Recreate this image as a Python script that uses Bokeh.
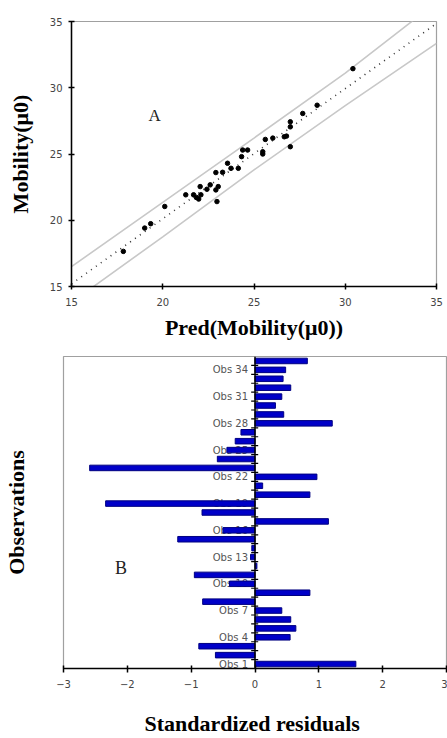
import numpy as np
from bokeh.plotting import figure
from bokeh.models import Range1d, Span, Label, FixedTicker
from bokeh.core.properties import value
from bokeh.embed import file_html
from bokeh.resources import INLINE

# ---------------- data: panel A ----------------
pred_x = [17.84, 19.01, 19.34, 20.11, 21.26, 21.69, 21.84, 21.97, 22.09, 22.05,
          22.42, 22.60, 22.91, 22.91, 23.04, 22.97, 23.28, 23.55, 23.74, 24.14,
          24.32, 24.38, 24.65, 25.48, 25.48, 25.62, 26.03, 26.66, 26.78, 26.99,
          26.99, 26.99, 27.67, 28.46, 30.42]
obs_y = [17.65, 19.41, 19.74, 21.04, 21.92, 21.92, 21.72, 21.60, 21.92, 22.54,
         22.34, 22.67, 23.60, 22.29, 22.54, 21.41, 23.62, 24.30, 23.92, 23.92,
         24.80, 25.30, 25.30, 25.17, 25.00, 26.10, 26.20, 26.30, 26.35, 25.55,
         27.05, 27.43, 28.06, 28.68, 31.44]
fit_x = [15, 35]
fit_y = [15.2, 34.85]
band_x = [15, 20, 25, 30, 35]
band_upper = [16.5, 21.35, 26.2, 31.1, 36.45]
band_lower = [13.8, 18.75, 23.8, 28.65, 33.35]
ticks_a = [15, 20, 25, 30, 35]

# ---------------- data: panel B ----------------
obs_index = list(range(1, 36))
std_resid = [1.58, -0.62, -0.88, 0.55, 0.64, 0.56, 0.42, -0.82, 0.86, -0.40,
             -0.95, 0.03, -0.07, -0.05, -1.21, -0.50, 1.15, -0.83, -2.34, 0.86,
             0.12, 0.97, -2.59, -0.59, -0.44, -0.31, -0.22, 1.21, 0.45, 0.32,
             0.42, 0.56, 0.44, 0.48, 0.82]
obs_label_pos = [1, 4, 7, 10, 13, 16, 19, 22, 25, 28, 31, 34]
obs_labels = ["Obs 1", "Obs 4", "Obs 7", "Obs 10", "Obs 13", "Obs 16", "Obs 19",
              "Obs 22", "Obs 25", "Obs 28", "Obs 31", "Obs 34"]
ticks_b = [-3, -2, -1, 0, 1, 2, 3]

SERIF = "Liberation Serif"
SANS = "DejaVu Sans"

# ---------------- panel A ----------------
p1 = figure(width=447, height=342, output_backend="svg", toolbar_location=None,
            x_range=Range1d(15, 35), y_range=Range1d(15, 35),
            min_border_left=71, min_border_right=11, min_border_top=21, min_border_bottom=55)
p1.grid.visible = False
p1.outline_line_color = "#a0a0a0"
p1.outline_line_width = 1.2

p1.line(band_x, band_upper, line_color="#c8c8c8", line_width=1.6)
p1.line(band_x, band_lower, line_color="#c8c8c8", line_width=1.6)
p1.line(fit_x, fit_y, line_color="#333333", line_width=1.6, line_dash="1 5")
p1.scatter(pred_x, obs_y, size=4.5, color="black")

p1.add_layout(Label(x=19.56, y=27.93, text="A", text_font=SERIF, text_font_size="17px",
                    text_align="center", text_baseline="middle", text_color="#222222"))

for ax in (p1.xaxis[0], p1.yaxis[0]):
    ax.ticker = FixedTicker(ticks=ticks_a)
    ax.minor_tick_line_color = None
    ax.major_tick_in = 3
    ax.major_tick_out = 3
    ax.axis_line_color = "black"
    ax.axis_line_width = 1.5
    ax.major_tick_line_color = "black"
    ax.major_tick_line_width = 1.5
    ax.major_label_text_font = SANS
    ax.major_label_text_font_size = "10px"
    ax.major_label_text_color = "#444444"
    ax.axis_label_text_font = SERIF
    ax.axis_label_text_font_style = "bold"
    ax.axis_label_text_font_size = "22px"
    ax.axis_label_text_color = "black"

p1.xaxis.axis_label = "Pred(Mobility(\u03bc0))"
p1.yaxis.axis_label = "Mobility(\u03bc0)"
p1.xaxis.major_label_standoff = 8
p1.xaxis.axis_label_standoff = 6
p1.yaxis.major_label_standoff = 6
p1.yaxis.axis_label_standoff = 14

# ---------------- panel B ----------------
p2 = figure(width=447, height=396, output_backend="svg", toolbar_location=None,
            x_range=Range1d(-3, 3), y_range=Range1d(0.5, 35.5),
            min_border_left=63, min_border_right=1, min_border_top=14, min_border_bottom=66)
p2.grid.visible = False
p2.outline_line_color = "#a0a0a0"
p2.outline_line_width = 1.2

yax = p2.yaxis[0]
yax.ticker = FixedTicker(ticks=[])
yax.axis_line_color = None
yax.major_tick_out = 0
yax.major_tick_in = 0
yax.minor_tick_line_color = None
yax.major_label_standoff = 0
yax.axis_label = "Observations"
yax.axis_label_text_font = SERIF
yax.axis_label_text_font_style = "bold"
yax.axis_label_text_font_size = "22px"
yax.axis_label_text_color = "black"
yax.axis_label_standoff = 35

# category tick labels (drawn under the bars, like the original)
p2.text(x=[0] * len(obs_label_pos), y=obs_label_pos, text=obs_labels,
        x_offset=-7, text_align="right", text_baseline="middle",
        text_font=value(SANS), text_font_size="10px", text_color="#555555")
bounds = [i + 0.5 for i in obs_index[:-1]]
p2.segment(x0=[-0.06] * len(bounds), y0=bounds, x1=[0.05] * len(bounds), y1=bounds,
           line_color="black", line_width=1.2)

p2.hbar(y=obs_index, left=0, right=std_resid, height=0.62,
        fill_color="#0000c8", line_color="#000080", line_width=1)
p2.add_layout(Span(location=0, dimension="height", line_color="black", line_width=1.5))

p2.add_layout(Label(x=-2.1, y=11.8, text="B", text_font=SERIF, text_font_size="18px",
                    text_align="center", text_baseline="middle", text_color="#222222"))

ax = p2.xaxis[0]
ax.ticker = FixedTicker(ticks=ticks_b)
ax.minor_tick_line_color = None
ax.major_tick_in = 3
ax.major_tick_out = 4
ax.axis_line_color = "black"
ax.axis_line_width = 1.5
ax.major_tick_line_color = "black"
ax.major_tick_line_width = 1.5
ax.major_label_text_font = SANS
ax.major_label_text_font_size = "10px"
ax.major_label_text_color = "#444444"
ax.major_label_standoff = 7
ax.axis_label = "Standardized  residuals"
ax.axis_label_text_font = SERIF
ax.axis_label_text_font_style = "bold"
ax.axis_label_text_font_size = "22px"
ax.axis_label_text_color = "black"
ax.axis_label_standoff = 20

# two independent roots, stacked, so their frames are not aligned to each other
open("out.html", "w").write(file_html([p1, p2], INLINE))
